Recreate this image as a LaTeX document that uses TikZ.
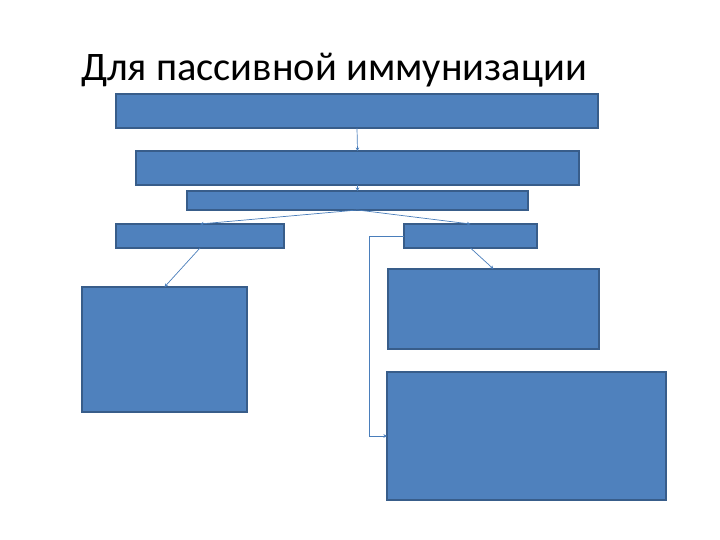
\documentclass[tikz,border=0pt]{standalone}
\usepackage{fontspec}
\setmainfont{Carlito}
\usetikzlibrary{arrows.meta}
\definecolor{boxfill}{HTML}{4F81BD}
\definecolor{boxline}{HTML}{385D8A}
\definecolor{linkcol}{HTML}{4A7EBB}
\begin{document}
\begin{tikzpicture}[x=1pt,y=-1pt,
		blok/.style={draw=boxline,fill=boxfill,line width=1.2pt,inner sep=0pt,outer sep=0pt,anchor=north west},
		link/.style={draw=linkcol,line width=0.7pt,-{Stealth[length=3.5pt,width=3.5pt]}}]
		\useasboundingbox (0,0) rectangle (720,540);
		\node (title) at (334,70) {\fontsize{40.5}{46}\selectfont Для пассивной иммунизации};
		\node [blok,minimum width=482pt,minimum height=34pt] (top) at (116,94) {};
		\node [blok,minimum width=443pt,minimum height=34pt] (second) at (136,151) {};
		\node [blok,minimum width=341pt,minimum height=19pt] (third) at (187,191) {};
		\node [blok,minimum width=168pt,minimum height=24pt] (left) at (116,224) {};
		\node [blok,minimum width=133pt,minimum height=24pt] (right) at (404,224) {};
		\node [blok,minimum width=165pt,minimum height=125pt] (leftbig) at (82,287) {};
		\node [blok,minimum width=211pt,minimum height=80pt] (rightmid) at (388,269) {};
		\node [blok,minimum width=279pt,minimum height=128pt] (rightbig) at (387,372) {};
		\coordinate (bend) at (369,0);
		\draw [link] (top.south) -- (second.north);
		\draw [link] (second.south) -- (third.north);
		\draw [link] (third.south) -- (left.north);
		\draw [link] (third.south) -- (right.north);
		\draw [link] (left.south) -- (leftbig.north);
		\draw [link] (right.south) -- (rightmid.north);
		\draw [link] (right.west) -- (right.west -| bend) |- (rightbig.west);
	\end{tikzpicture}
\end{document}
